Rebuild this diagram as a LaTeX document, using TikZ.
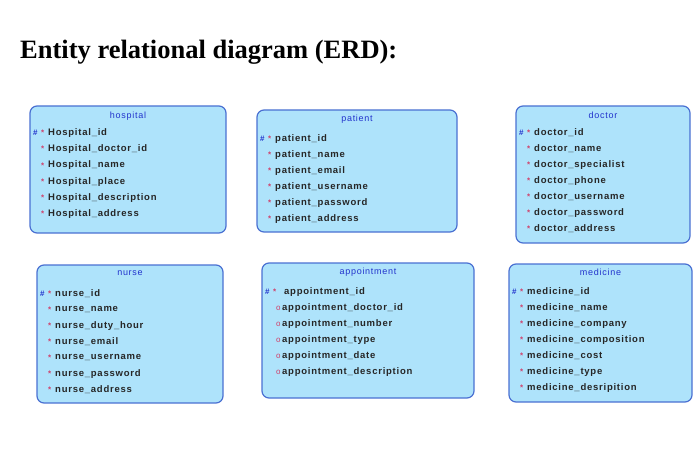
\documentclass[tikz,border=0pt]{standalone}
\usepackage{fontspec}
\setmainfont{Liberation Serif}
\setsansfont{Liberation Sans}
\newfontfamily\attrfont[LetterSpace=8]{Liberation Sans}
\usepackage{tikz}
\definecolor{boxfill}{HTML}{AEE3FB}
\definecolor{boxline}{HTML}{4A70D2}
\definecolor{keyblue}{HTML}{2233CC}
\definecolor{markred}{HTML}{D0406A}
\tikzset{
  entity/.style={draw=boxline, line width=1.2pt, fill=boxfill, rounded corners=7pt},
  etitle/.style={font=\attrfont\fontsize{9}{10}\selectfont, text=keyblue, inner sep=0pt},
  attr/.style={font=\attrfont\bfseries\fontsize{9.5}{10}\selectfont, text=black!85, anchor=west, inner sep=0pt},
  keymark/.style={font=\sffamily\bfseries\fontsize{8}{10}\selectfont, anchor=west, inner sep=0pt}
}
% \entity{name}{x1}{y1}{x2}{y2}{title y}
\newcommand{\entity}[6]{%
  \draw[entity] (#2,#3) rectangle (#4,#5);
  \node[etitle] (#1-title) at ({(#2+#4)/2},#6) {#1};}
\begin{document}
\begin{tikzpicture}[x=1pt,y=-1pt]
\useasboundingbox (0,0) rectangle (700,457);
\node[font=\bfseries\fontsize{26.5}{30}\selectfont, anchor=west, inner sep=0pt] (heading) at (20,52) {Entity relational diagram (ERD):};
% hospital
\entity{hospital}{30}{106}{226}{233}{116}
\node[keymark, text=keyblue] at (33,133) {\#};
\foreach \t [count=\i from 0] in {Hospital\_id,Hospital\_doctor\_id,Hospital\_name,Hospital\_place,Hospital\_description,Hospital\_address}{
  \node[keymark, text=markred] at (41,{133+16.2*\i}) {*};
  \node[attr] (hospital-\i) at (48,{133+16.2*\i}) {\t};}
% patient
\entity{patient}{257}{110}{457}{232}{119}
\node[keymark, text=keyblue] at (260,139) {\#};
\foreach \t [count=\i from 0] in {patient\_id,patient\_name,patient\_email,patient\_username,patient\_password,patient\_address}{
  \node[keymark, text=markred] at (268,{139+16*\i}) {*};
  \node[attr] (patient-\i) at (275,{139+16*\i}) {\t};}
% doctor
\entity{doctor}{516}{106}{690}{243}{115}
\node[keymark, text=keyblue] at (519,133) {\#};
\foreach \t [count=\i from 0] in {doctor\_id,doctor\_name,doctor\_specialist,doctor\_phone,doctor\_username,doctor\_password,doctor\_address}{
  \node[keymark, text=markred] at (527,{133+16*\i}) {*};
  \node[attr] (doctor-\i) at (534,{133+16*\i}) {\t};}
% nurse
\entity{nurse}{37}{265}{223}{403}{273}
\node[keymark, text=keyblue] at (40,294) {\#};
\foreach \t [count=\i from 0] in {nurse\_id,nurse\_name,nurse\_duty\_hour,nurse\_email,nurse\_username,nurse\_password,nurse\_address}{
  \node[keymark, text=markred] at (48,{294+16*\i}) {*};
  \node[attr] (nurse-\i) at (55,{294+16*\i}) {\t};}
% appointment
\entity{appointment}{262}{263}{474}{398}{272}
\node[keymark, text=keyblue] at (265,292) {\#};
\node[keymark, text=markred] at (273,292) {*};
\node[attr] (appointment-0) at (284,292) {appointment\_id};
\foreach \t [count=\i from 1] in {appointment\_doctor\_id,appointment\_number,appointment\_type,appointment\_date,appointment\_description}{
  \node[keymark, text=markred, font=\sffamily\fontsize{8}{10}\selectfont] at (276,{292+16*\i}) {o};
  \node[attr] (appointment-\i) at (282,{292+16*\i}) {\t};}
% medicine
\entity{medicine}{509}{264}{692}{402}{272}
\node[keymark, text=keyblue] at (512,292) {\#};
\foreach \t [count=\i from 0] in {medicine\_id,medicine\_name,medicine\_company,medicine\_composition,medicine\_cost,medicine\_type,medicine\_desripition}{
  \node[keymark, text=markred] at (520,{292+16*\i}) {*};
  \node[attr] (medicine-\i) at (527,{292+16*\i}) {\t};}
\end{tikzpicture}
\end{document}
